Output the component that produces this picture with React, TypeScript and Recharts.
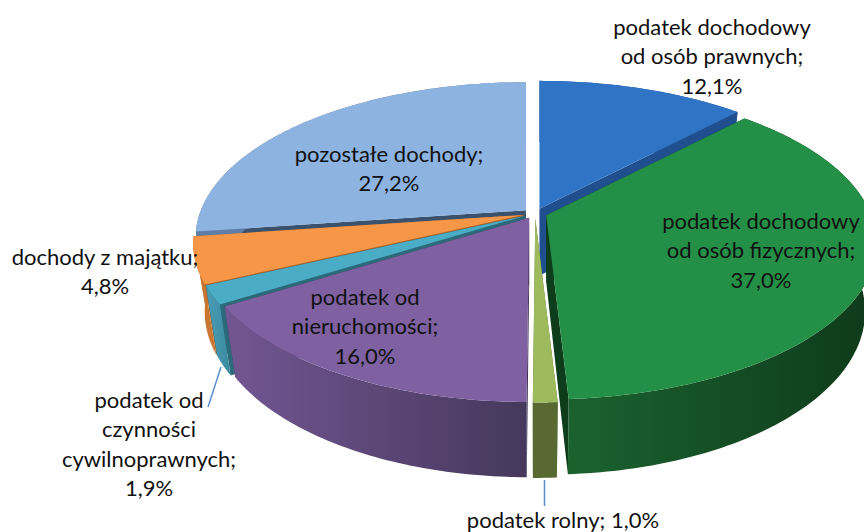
import React from "react";
import { PieChart, Pie } from "recharts";

const categories = [
  "podatek dochodowy od osób prawnych",
  "podatek dochodowy od osób fizycznych",
  "podatek rolny",
  "podatek od nieruchomości",
  "podatek od czynności cywilnoprawnych",
  "dochody z majątku",
  "pozostałe dochody",
];
const shares = [12.1, 37.0, 1.0, 16.0, 1.9, 4.8, 27.2];

const topColors = ["#3074c5", "#248f47", "#9dbb5d", "#7f60a1", "#4bacc6", "#f79646", "#8db3e0"];
const edgeColors = ["#1f4f8f", "#0e3d1c", "#586a32", "#3f3052", "#2b6a7a", "#a8642c", "#3a526e"];
const rimLeft = ["#1f4f8f", "#1b622f", "#586a32", "#725692", "#4a9db5", "#c9772f", "#5f7ea8"];
const rimRight = ["#1f4f8f", "#0e3a1b", "#586a32", "#46385c", "#3a8aa0", "#c9772f", "#5f7ea8"];

const labelLines = [
  ["podatek dochodowy", "od osób prawnych;"],
  ["podatek dochodowy", "od osób fizycznych;"],
  [],
  ["podatek od", "nieruchomości;"],
  ["podatek od", "czynności", "cywilnoprawnych;"],
  ["dochody z majątku;"],
  ["pozostałe dochody;"],
];
const labelAnchors = [
  { x: 712, y: 28 },
  { x: 761, y: 222 },
  { x: 563, y: 521 },
  { x: 365, y: 298 },
  { x: 149, y: 401 },
  { x: 105, y: 258 },
  { x: 389, y: 155 },
];
const leaders = [
  null,
  null,
  { x1: 544.5, y1: 480, x2: 544.5, y2: 506 },
  null,
  { x1: 221, y1: 367, x2: 208, y2: 407 },
  null,
  null,
];

// back to front, the pie has to be painted like a stack of cards
const drawOrder = [6, 0, 5, 4, 1, 2, 3];

const pieData = categories.map((name, i) => ({ name, value: shares[i] }));

const percent = (v: number) => v.toFixed(1).replace(".", ",") + "%";

// 3D look: perspective on the pie plane
const PERSPECTIVE = 0.18;
const SQUASH = 151 / 325;
const BOTTOM_SCALE = 0.965;
const DEPTH = 67;
const EXPLODE_X = 12;
const EXPLODE_Y = 5;
const CX = 535;
const CY = 213.5;
const RADIUS = 325;

const project = (r: number, deg: number) => {
  const t = (deg * Math.PI) / 180;
  const u = Math.sin(t);
  const v = Math.cos(t);
  const w = 1 + PERSPECTIVE * v;
  return { x: (r * u) / w, y: (-r * SQUASH * v) / w, w };
};

const lower = (p: { x: number; y: number; w: number }) => ({
  x: p.x * BOTTOM_SCALE,
  y: p.y * BOTTOM_SCALE + DEPTH / p.w,
  w: p.w,
});

const toPath = (pts: { x: number; y: number }[]) =>
  "M" + pts.map((p) => p.x.toFixed(1) + "," + p.y.toFixed(1)).join("L") + "Z";

const Slice = (props: any) => {
  const { cx, cy, outerRadius, startAngle, endAngle, midAngle, index } = props;
  const from = 90 - startAngle;
  const to = 90 - endAngle;
  const mid = ((90 - midAngle) * Math.PI) / 180;
  const ox = cx + EXPLODE_X * Math.sin(mid);
  const oy = cy - EXPLODE_Y * Math.cos(mid);

  const arc: ReturnType<typeof project>[] = [];
  const steps = Math.max(4, Math.ceil(to - from));
  for (let i = 0; i <= steps; i++) arc.push(project(outerRadius, from + ((to - from) * i) / steps));
  const apex = { x: 0, y: 0, w: 1 };
  const first = arc[0];
  const last = arc[arc.length - 1];
  const gradId = "rim" + index;

  return (
    <g transform={`translate(${ox},${oy})`}>
      <defs>
        <linearGradient id={gradId} x1="0" y1="0" x2="1" y2="0">
          <stop offset="0%" stopColor={rimLeft[index]} />
          <stop offset="100%" stopColor={rimRight[index]} />
        </linearGradient>
      </defs>
      <path d={toPath([apex, first, lower(first), lower(apex)])} fill={edgeColors[index]} />
      <path d={toPath([apex, last, lower(last), lower(apex)])} fill={edgeColors[index]} />
      <path d={toPath([...arc, ...arc.map(lower).reverse()])} fill={`url(#${gradId})`} />
      <path d={toPath([apex, ...arc])} fill={topColors[index]} />
    </g>
  );
};

const renderLabel = (props: any) => {
  const { index } = props;
  const anchor = labelAnchors[index];
  const lines =
    index === 2
      ? [categories[2] + "; " + percent(shares[2])]
      : [...labelLines[index], percent(shares[index])];
  const lead = leaders[index];
  return (
    <g key={index}>
      {lead && <line {...lead} stroke="#5b8fd0" strokeWidth={1.5} />}
      <text
        x={anchor.x}
        y={anchor.y}
        textAnchor="middle"
        fontFamily="Lato, 'Open Sans', sans-serif"
        fontSize={22}
        fill="#111111"
      >
        {lines.map((line, i) => (
          <tspan key={i} x={anchor.x} y={anchor.y + 7 + i * 29.3}>
            {line}
          </tspan>
        ))}
      </text>
    </g>
  );
};

const App = () => {
  return (
    <div style={{ position: "absolute", left: 0, top: 0, width: 864, height: 532, background: "#ffffff" }}>
      <PieChart width={864} height={532} margin={{ top: 0, right: 0, bottom: 0, left: 0 }}>
        {drawOrder.map((slot) => (
          <Pie
            key={slot}
            data={pieData}
            dataKey="value"
            nameKey="name"
            cx={CX}
            cy={CY}
            outerRadius={RADIUS}
            startAngle={90}
            endAngle={-270}
            stroke="none"
            label={false}
            labelLine={false}
            isAnimationActive={false}
            shape={(p: any) => (p.index === slot ? <Slice {...p} /> : <g />)}
          />
        ))}
        <Pie
          data={pieData}
          dataKey="value"
          nameKey="name"
          cx={CX}
          cy={CY}
          outerRadius={RADIUS}
          startAngle={90}
          endAngle={-270}
          stroke="none"
          labelLine={false}
          label={renderLabel}
          isAnimationActive={false}
          shape={() => <g />}
        />
      </PieChart>
    </div>
  );
};

export default App;
